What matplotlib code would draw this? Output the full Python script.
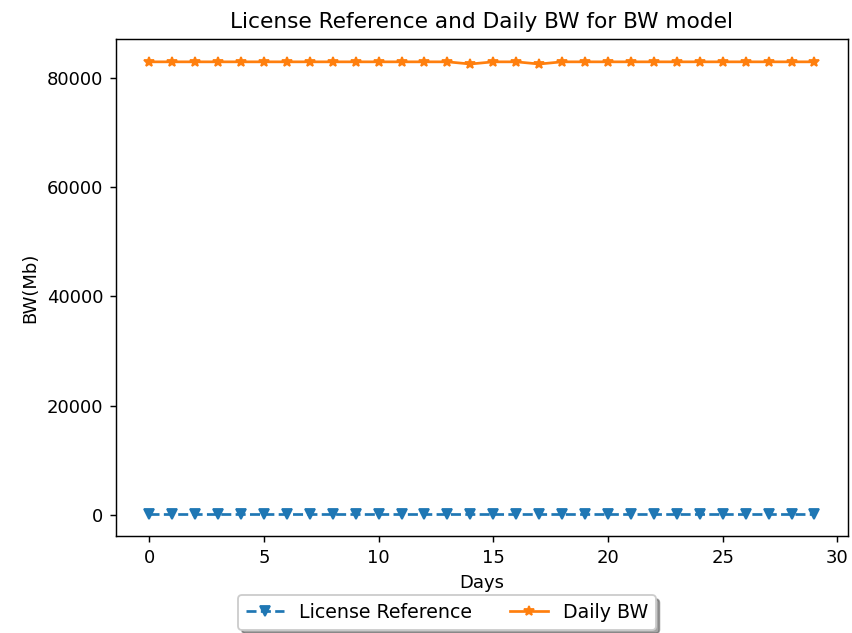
import matplotlib
matplotlib.use('Agg')
import matplotlib.pyplot as plt

days = list(range(30))
license_ref = [200] * 30
daily_bw = [83000, 83000, 83000, 83000, 83000, 83000, 83000, 83000, 83000, 83000,
            83000, 83000, 83000, 83000, 82600, 83000, 83000, 82600, 83000, 83000,
            83000, 83000, 83000, 83000, 83000, 83000, 83000, 83000, 83000, 83000]

# original looks like a ~130 dpi render, so keep default sizes and scale via dpi
fig = plt.figure(figsize=(852 / 130, 633 / 130), dpi=130)
ax = fig.add_axes([0.136, 0.153, 0.859, 0.785])
ax.plot(days, license_ref, '--v', label='License Reference')
ax.plot(days, daily_bw, '-*', label='Daily BW')
ax.set_xlabel('Days')
ax.set_ylabel('BW(Mb)')
ax.set_title('License Reference and Daily BW for BW model')
fig.legend(loc='upper center', bbox_to_anchor=(447 / 852, 1 - 586 / 633),
           ncol=2, fancybox=True, shadow=True, fontsize=10.5)
plt.savefig('out.png', dpi=130)
